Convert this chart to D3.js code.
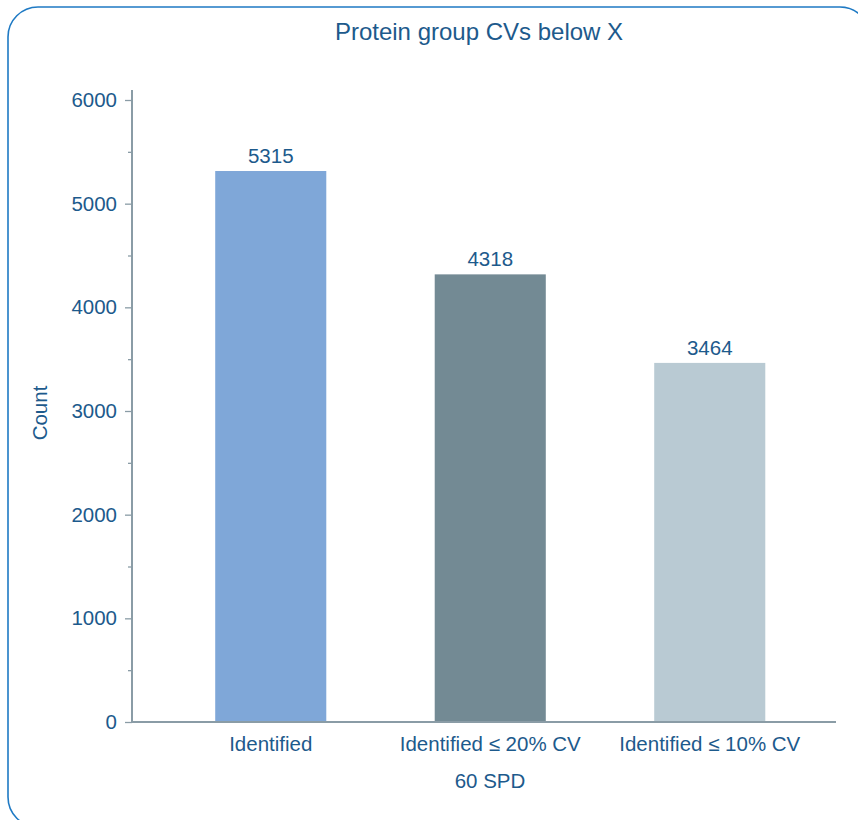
<!DOCTYPE html>
<html>
<head>
<meta charset="utf-8">
<script src="https://cdn.jsdelivr.net/npm/d3@7/dist/d3.min.js"></script>
<style>
  html, body { margin: 0; padding: 0; background: #fff; }
  svg { display: block; }
  text { font-family: "Liberation Sans", Arial, sans-serif; fill: #1d5a8c; }
</style>
</head>
<body>
<svg id="chart" width="858" height="820"></svg>
<script>
const categories = ["Identified", "Identified \u2264 20% CV", "Identified \u2264 10% CV"];
const counts = [5315, 4318, 3464];
const barColors = ["#7fa7d8", "#738a94", "#b9cad3"];
const majorTicks = [0, 1000, 2000, 3000, 4000, 5000, 6000];
const minorTicks = [500, 1500, 2500, 3500, 4500, 5500];
const title = "Protein group CVs below X";
const xTitle = "60 SPD";
const yTitle = "Count";

const svg = d3.select("#chart");
const textColor = "#1d5a8c";
const axisColor = "#8a9ca6";
const fs = "20.5px";

// frame
svg.append("rect")
  .attr("x", 8).attr("y", 7).attr("width", 862).attr("height", 820)
  .attr("rx", 30).attr("ry", 30)
  .attr("fill", "none").attr("stroke", "#1f7ac4").attr("stroke-width", 1.6);

const x0 = 132, x1 = 836, yTop = 100, yBot = 722;

const y = d3.scaleLinear().domain([0, 6000]).range([yBot, yTop]);
const x = d3.scaleBand().domain(categories).range([161, 819.5])
  .paddingInner(0.494).paddingOuter(0.247);

// bars
svg.append("g").selectAll("rect").data(counts).join("rect")
  .attr("x", (d, i) => x(categories[i]))
  .attr("width", x.bandwidth())
  .attr("y", d => y(d))
  .attr("height", d => y(0) - y(d))
  .attr("fill", (d, i) => barColors[i]);

// value labels
svg.append("g").selectAll("text").data(counts).join("text")
  .attr("x", (d, i) => x(categories[i]) + x.bandwidth() / 2)
  .attr("y", d => y(d) - 8)
  .attr("text-anchor", "middle")
  .style("font-size", fs)
  .text(d => d);

// y axis major
const yAxis = svg.append("g").attr("transform", `translate(${x0},0)`)
  .call(d3.axisLeft(y).tickValues(majorTicks).tickSize(7).tickPadding(8).tickFormat(d3.format("d")));
yAxis.select(".domain").remove();
yAxis.selectAll(".tick line").attr("stroke", axisColor).attr("stroke-width", 1.3);
yAxis.selectAll(".tick text").style("font-size", fs).style("font-family", '"Liberation Sans", Arial, sans-serif').attr("fill", textColor);

const yMinor = svg.append("g").attr("transform", `translate(${x0},0)`)
  .call(d3.axisLeft(y).tickValues(minorTicks).tickSize(4).tickFormat(""));
yMinor.select(".domain").remove();
yMinor.selectAll(".tick line").attr("stroke", axisColor).attr("stroke-width", 1.3);

// y axis line
svg.append("line").attr("x1", x0).attr("x2", x0).attr("y1", 90).attr("y2", yBot + 1)
  .attr("stroke", axisColor).attr("stroke-width", 2);

// x axis
const xAxis = svg.append("g").attr("transform", `translate(0,${yBot})`)
  .call(d3.axisBottom(x).tickSize(0).tickPadding(14));
xAxis.select(".domain").remove();
xAxis.selectAll(".tick text").style("font-size", fs).style("font-family", '"Liberation Sans", Arial, sans-serif').attr("fill", textColor);
svg.append("line").attr("x1", x0 - 1).attr("x2", x1).attr("y1", yBot).attr("y2", yBot)
  .attr("stroke", axisColor).attr("stroke-width", 2);

// titles
svg.append("text").attr("x", 479).attr("y", 40).attr("text-anchor", "middle")
  .style("font-size", "24px").text(title);
svg.append("text").attr("x", 490).attr("y", 788).attr("text-anchor", "middle")
  .style("font-size", fs).text(xTitle);
svg.append("text").attr("transform", `translate(47,413) rotate(-90)`).attr("text-anchor", "middle")
  .style("font-size", fs).text(yTitle);
</script>
</body>
</html>
